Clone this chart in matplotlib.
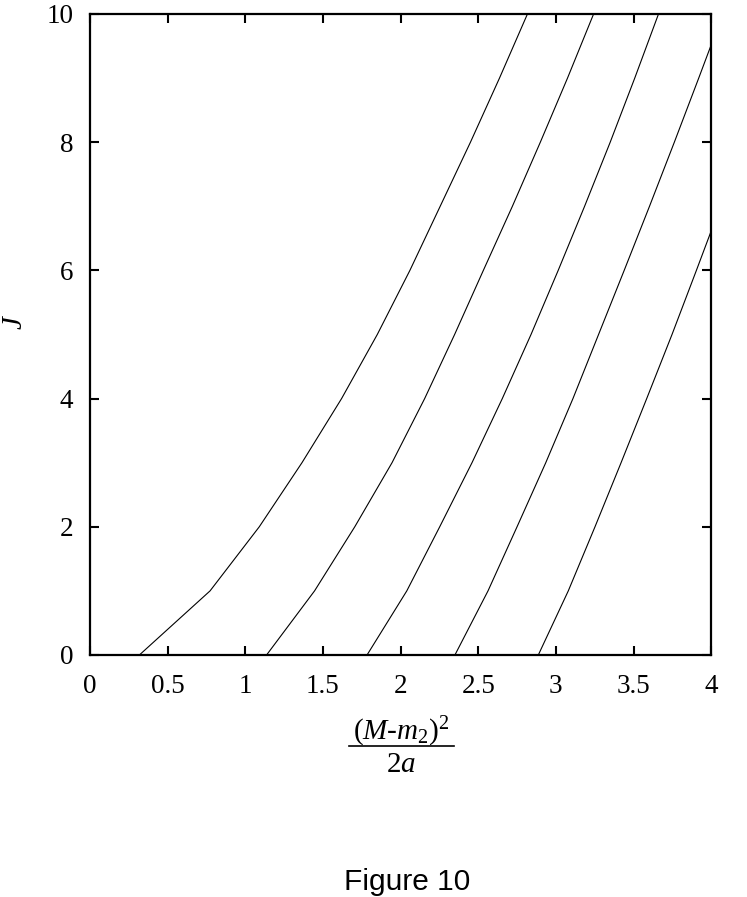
import matplotlib
matplotlib.use('Agg')
from matplotlib import pyplot as plt
from matplotlib.lines import Line2D

plt.rcParams['font.family'] = ['Liberation Serif', 'DejaVu Serif']
plt.rcParams['mathtext.fontset'] = 'custom'
plt.rcParams['mathtext.rm'] = 'Liberation Serif'
plt.rcParams['mathtext.it'] = 'Liberation Serif:italic'

# J levels and the x value of each curve at that J
j_levels = [0, 1, 2, 3, 4, 5, 6, 7, 8, 9, 10]
curve_1 = [0.318, 0.773, 1.09, 1.365, 1.62, 1.85, 2.06, 2.255, 2.45, 2.637, 2.817]
curve_2 = [1.137, 1.446, 1.705, 1.945, 2.155, 2.348, 2.533, 2.72, 2.9, 3.075, 3.243]
curve_3 = [1.784, 2.04, 2.252, 2.46, 2.655, 2.84, 3.015, 3.185, 3.35, 3.508, 3.661]
curve_4 = [2.35, 2.563, 2.75, 2.935, 3.11, 3.275, 3.44, 3.603, 3.763, 3.92, 4.075]
curve_5 = [2.887, 3.08, 3.252, 3.42, 3.585, 3.748, 3.905, 4.06]

x_ticks = [0, 0.5, 1, 1.5, 2, 2.5, 3, 3.5, 4]
x_tick_labels = ['0', '0.5', '1', '1.5', '2', '2.5', '3', '3.5', '4']
y_ticks = [0, 2, 4, 6, 8, 10]

fig = plt.figure(figsize=(7.47, 8.97), dpi=100)
ax = fig.add_axes([0.1205, 0.2698, 0.8315, 0.7146])

for xs in (curve_1, curve_2, curve_3, curve_4, curve_5):
    ax.plot(xs, j_levels[:len(xs)], color='black', lw=0.8)

ax.set_xlim(0, 4)
ax.set_ylim(0, 10)
ax.set_xticks(x_ticks)
ax.set_xticklabels(x_tick_labels)
ax.set_yticks(y_ticks)
ax.tick_params(direction='in', length=6.5, width=1.5, labelsize=19.5,
               top=True, right=True)
ax.tick_params(axis='x', pad=14)
ax.tick_params(axis='y', pad=12)
for sp in ax.spines.values():
    sp.set_linewidth(1.6)

ax.set_ylabel(r'$J$', fontsize=21)
ax.yaxis.set_label_coords(-0.1, 0.52)

# x label drawn as a stacked fraction
fig.text(0.537, 0.184, r'($M$-$m_2$)$^2$', fontsize=21, ha='center', va='center')
fig.add_artist(Line2D([0.467, 0.608], [0.1683, 0.1683], color='black', lw=1.2,
                      transform=fig.transFigure))
fig.text(0.537, 0.147, r'2$a$', fontsize=21, ha='center', va='center')

fig.text(0.545, 0.0078, 'Figure 10', fontsize=21.5, ha='center', va='baseline',
         family='Liberation Sans')

fig.savefig('out.png', dpi=100)
